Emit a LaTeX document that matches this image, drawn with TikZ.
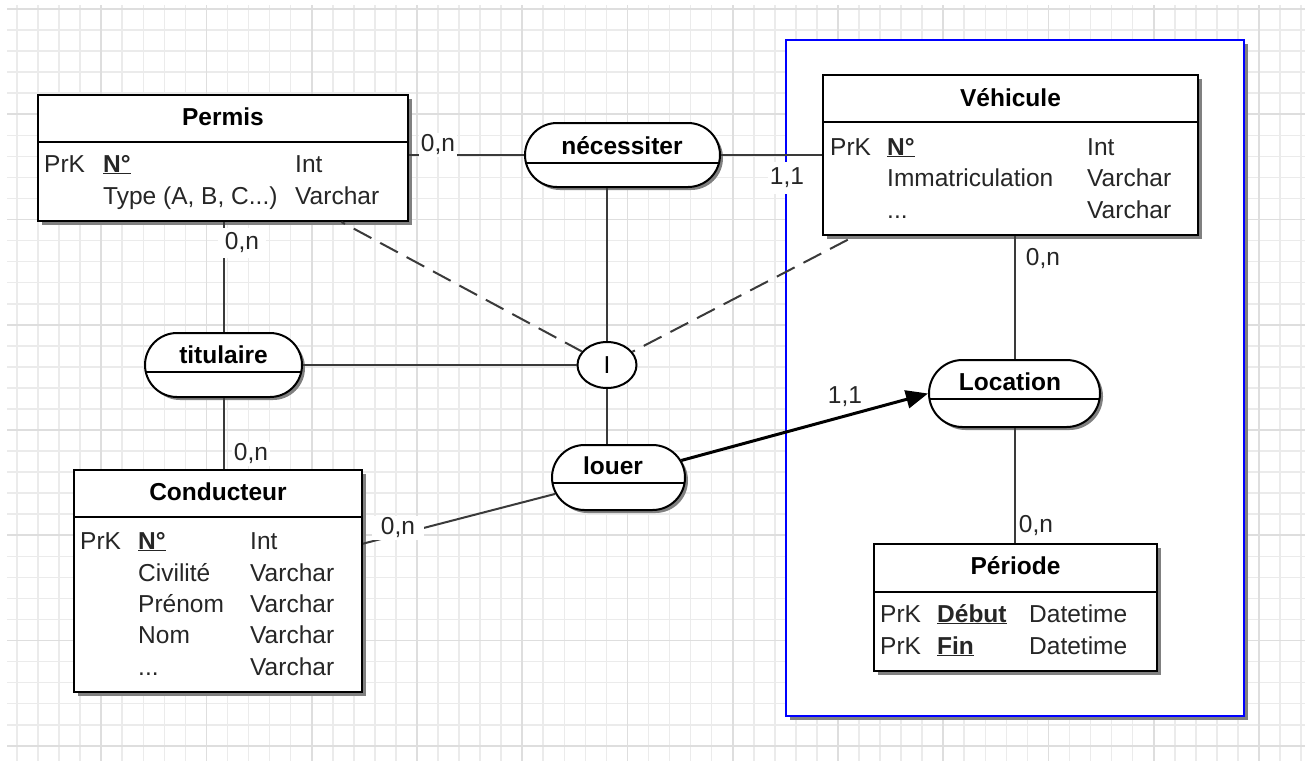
\documentclass[tikz,border=0pt]{standalone}
\usepackage{fontspec}
\setmainfont{Liberation Sans}
\usetikzlibrary{shapes.misc,shapes.geometric,arrows.meta,calc,shadows}
\definecolor{gridl}{HTML}{EBEBEB}
\definecolor{gridd}{HTML}{DEDEDE}
\definecolor{txt}{HTML}{262626}
\definecolor{lnc}{HTML}{3A3A3A}
\definecolor{shd}{HTML}{808080}
\newcommand{\fsz}{\fontsize{24.5}{28}\selectfont}
\begin{document}
\begin{tikzpicture}[x=1pt,y=-1pt,
  ent/.style={draw=black, line width=2pt, fill=white, rectangle, inner sep=0pt,
    drop shadow={shadow xshift=4pt, shadow yshift=-4pt, fill=shd, opacity=1}},
  pill/.style={rounded rectangle, draw=black, line width=2pt, fill=white, inner sep=0pt,
    drop shadow={shadow xshift=3pt, shadow yshift=-3pt, fill=shd, opacity=1}},
  ttl/.style={font=\fsz\bfseries, inner sep=0pt, text=black},
  rowt/.style={anchor=base west, inner sep=0pt, font=\fsz, text=txt},
  sepline/.style={draw=black, line width=1.8pt},
  conn/.style={draw=lnc, line width=2pt},
  dconn/.style={draw=lnc, line width=2pt, dash pattern=on 20pt off 10pt},
  aconn/.style={draw=black, line width=3pt, -{Triangle[length=22pt,width=18pt]}},
  lbl/.style={font=\fsz, fill=white, inner sep=2pt, text=txt},
]
\useasboundingbox (0,0) rectangle (1309,761);
\fill[white] (0,0) rectangle (1309,761);
% grid
\foreach \k in {0,...,61} \draw[gridl, line width=1.6pt] ({17+21.05*\k},5) -- ({17+21.05*\k},761);
\foreach \k in {0,...,35} \draw[gridl, line width=1.6pt] (7,{9+21.05*\k}) -- (1305,{9+21.05*\k});
\foreach \k in {4,9,...,59} \draw[gridd, line width=1.6pt] ({17+21.05*\k},5) -- ({17+21.05*\k},761);
\foreach \k in {0,5,...,35} \draw[gridd, line width=1.6pt] (7,{9+21.05*\k}) -- (1305,{9+21.05*\k});

% blue group
\node[draw=blue, line width=2.5pt, fill=white, rectangle, inner sep=0pt, minimum width=458pt, minimum height=676pt,
  drop shadow={shadow xshift=4pt, shadow yshift=-4pt, fill=shd, opacity=1}] (grp) at (1015,378) {};

% entities
\node[ent, minimum width=370pt, minimum height=126pt] (permis) at (223,158) {};
\node[ent, minimum width=375pt, minimum height=160pt] (veh) at (1010.5,155) {};
\node[ent, minimum width=288pt, minimum height=222pt] (cond) at (218,581) {};
\node[ent, minimum width=283pt, minimum height=127pt] (per) at (1015.5,607.5) {};

% relations
\node[pill, minimum width=195pt, minimum height=64pt] (nec) at (622.5,155) {};
\node[pill, minimum width=157pt, minimum height=64pt] (tit) at (223.5,365) {};
\node[pill, minimum width=133pt, minimum height=65pt] (louer) at (618.5,477.5) {};
\node[pill, minimum width=171pt, minimum height=67pt] (loc) at (1014.5,393.5) {};
\node[ellipse, draw=black, line width=2pt, fill=white, minimum width=59pt, minimum height=46pt, inner sep=0pt, font=\fsz] (I) at (607,365) {I};

% connectors
\draw[conn] (nec.west -| permis.east) -- (nec.west);
\draw[conn] (nec.east) -- (nec.east -| veh.west);
\draw[conn] (tit.north) -- (tit.north |- permis.south);
\draw[conn] (tit.south) -- (tit.south |- cond.north);
\draw[conn] (tit.east) -- (I.west);
\draw[conn] (I.north) -- (I.north |- nec.south);
\draw[conn] (I.south) -- (I.south |- louer.north);
\draw[conn] (louer) -- (cond);
\draw[dconn, dash phase=-14pt] (permis) -- (I);
\draw[dconn, dash phase=-8pt] (veh) -- (I);
\draw[conn] (loc.north) -- (loc.north |- veh.south);
\draw[conn] (loc.south) -- (loc.south |- per.north);
\draw[aconn] (louer) -- (loc.west);

% separators
\draw[sepline] (permis.west |- 0,142) -- (permis.east |- 0,142);
\draw[sepline] (veh.west |- 0,122) -- (veh.east |- 0,122);
\draw[sepline] (cond.west |- 0,517) -- (cond.east |- 0,517);
\draw[sepline] (per.west |- 0,592) -- (per.east |- 0,592);
\draw[sepline] ($(nec.west |- 0,163)+(1,0)$) -- ($(nec.east |- 0,163)+(-1,0)$);
\draw[sepline] ($(tit.west |- 0,372)+(1,0)$) -- ($(tit.east |- 0,372)+(-1,0)$);
\draw[sepline] ($(louer.west |- 0,483)+(1,0)$) -- ($(louer.east |- 0,483)+(-1,0)$);
\draw[sepline] ($(loc.west |- 0,399)+(1,0)$) -- ($(loc.east |- 0,399)+(-1,0)$);

% titles
\node[ttl] (permis-t) at (223,117) {Permis};
\node[ttl] (veh-t) at (1010.5,98) {Véhicule};
\node[ttl] (cond-t) at (218,492) {Conducteur};
\node[ttl] (per-t) at (1015.5,566) {Période};
\node[ttl] (nec-t) at (622,146) {nécessiter};
\node[ttl] (tit-t) at (223.5,355) {titulaire};
\node[ttl] (louer-t) at (613,466) {louer};
\node[ttl] (loc-t) at (1010,382) {Location};

% Permis rows
\node[rowt] (p1a) at (44,172) {PrK};
\node[rowt] (p1b) at (103,172) {\underline{\textbf{N°}}};
\node[rowt] (p1c) at (295,172) {Int};
\node[rowt] (p2b) at (103,204) {Type (A, B, C...)};
\node[rowt] (p2c) at (295,204) {Varchar};
% Vehicule rows
\node[rowt] (v1a) at (830,155) {PrK};
\node[rowt] (v1b) at (887,155) {\underline{\textbf{N°}}};
\node[rowt] (v1c) at (1087,155) {Int};
\node[rowt] (v2b) at (887,186) {Immatriculation};
\node[rowt] (v2c) at (1087,186) {Varchar};
\node[rowt] (v3b) at (887,218) {...};
\node[rowt] (v3c) at (1087,218) {Varchar};
% Conducteur rows
\node[rowt] (c1a) at (80,549) {PrK};
\node[rowt] (c1b) at (138,549) {\underline{\textbf{N°}}};
\node[rowt] (c1c) at (250,549) {Int};
\node[rowt] (c2b) at (138,581) {Civilité};
\node[rowt] (c2c) at (250,581) {Varchar};
\node[rowt] (c3b) at (138,612) {Prénom};
\node[rowt] (c3c) at (250,612) {Varchar};
\node[rowt] (c4b) at (138,643) {Nom};
\node[rowt] (c4c) at (250,643) {Varchar};
\node[rowt] (c5b) at (138,675) {...};
\node[rowt] (c5c) at (250,675) {Varchar};
% Periode rows
\node[rowt] (d1a) at (880,622) {PrK};
\node[rowt] (d1b) at (937,622) {\underline{\textbf{Début}}};
\node[rowt] (d1c) at (1029,622) {Datetime};
\node[rowt] (d2a) at (880,654) {PrK};
\node[rowt] (d2b) at (937,654) {\underline{\textbf{Fin}}};
\node[rowt] (d2c) at (1029,654) {Datetime};

% cardinality labels
\node[lbl] (l1) at (438,145) {0,n};
\node[lbl, minimum height=32pt] (l2) at (787,178) {1,1};
\node[lbl, minimum width=48pt, minimum height=30pt] (l3) at (242,243) {0,n};
\node[lbl] (l4) at (251,454) {0,n};
\node[lbl, minimum width=52pt] (l5) at (398,528) {0,n};
\node[lbl] (l6) at (1043,259) {0,n};
\node[lbl] (l7) at (1036,526) {0,n};
\node[lbl, fill=none] (l8) at (845,397) {1,1};
\end{tikzpicture}
\end{document}
